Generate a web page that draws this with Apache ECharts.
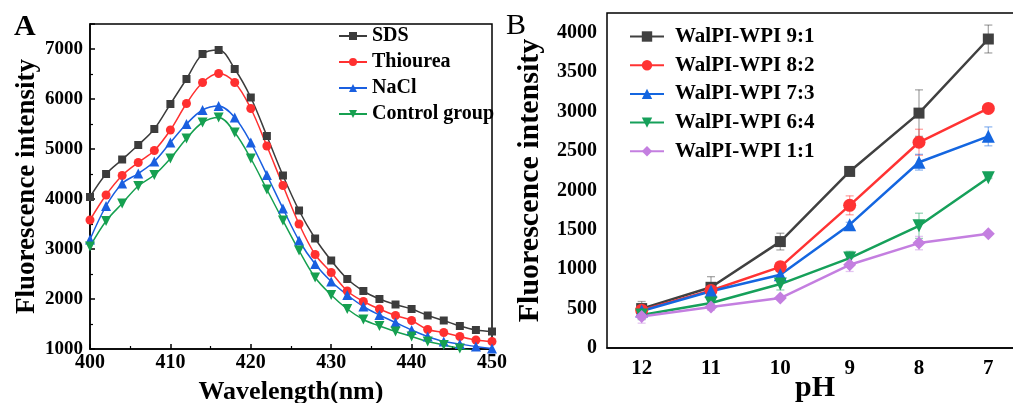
<!DOCTYPE html>
<html>
<head>
<meta charset="utf-8">
<script src="https://cdn.jsdelivr.net/npm/echarts@6/dist/echarts.min.js"></script>
<style>
html,body{margin:0;padding:0;background:#fff;}
#chart{width:1013px;height:403px;}
</style>
</head>
<body>
<div id="chart"></div>
<script>
// ---------- Panel A data ----------
var wavelengths = [400,402,404,406,408,410,412,414,416,418,420,422,424,426,428,430,432,434,436,438,440,442,444,446,448,450];
var sds      = [4040,4500,4790,5080,5400,5900,6400,6900,6980,6600,6030,5260,4470,3770,3210,2770,2400,2160,2000,1890,1800,1670,1570,1460,1380,1350];
var thiourea = [3580,4080,4470,4730,4970,5380,5910,6330,6510,6330,5810,5060,4270,3500,2890,2530,2160,1950,1800,1670,1570,1390,1330,1250,1180,1150];
var nacl     = [3190,3860,4310,4510,4750,5130,5500,5780,5860,5630,5130,4480,3810,3170,2700,2350,2080,1850,1680,1530,1380,1250,1150,1100,1050,1010];
var control  = [3050,3560,3910,4260,4480,4810,5210,5530,5630,5330,4810,4190,3570,2970,2430,2080,1800,1590,1460,1350,1250,1150,1080,1010,960,930];

// ---------- Panel B data ----------
var phLabels = ['12','11','10','9','8','7'];
var r91 = [500,770,1350,2240,2980,3920];
var r82 = [480,730,1030,1810,2610,3040];
var r73 = [470,720,930,1565,2357,2685];
var r64 = [420,570,811,1141,1550,2160];
var r11 = [400,520,634,1056,1331,1449];
var e91 = [90,135,106,30,295,177];
var e82 = [80,60,60,120,165,20];
var e73 = [60,50,40,30,100,120];
var e64 = [60,40,75,85,160,10];
var e11 = [85,40,20,85,85,10];

var FONT = '"Liberation Serif","Times New Roman",serif';
var cA = {sds:'#3c3c3c', thi:'#ff3030', nacl:'#1a5fe0', ctl:'#16a050'};
var cB = ['#404040','#ff3333','#1466e0','#16a05a','#c47fe0'];
var errColB = ['rgba(64,64,64,0.45)','rgba(255,51,51,0.45)','rgba(20,102,224,0.45)','rgba(22,160,90,0.45)','rgba(196,127,224,0.45)'];

function pairs(xs, ys){ var o=[]; for(var i=0;i<xs.length;i++){o.push([xs[i],ys[i]]);} return o; }

function errSeries(vals, errs, idx){
  var d=[]; for(var i=0;i<vals.length;i++){ d.push([i, vals[i]-errs[i], vals[i]+errs[i]]); }
  return {
    type:'custom', xAxisIndex:1, yAxisIndex:1, z:1, silent:true,
    data:d,
    renderItem:function(params, api){
      var x=api.value(0), lo=api.coord([x, api.value(1)]), hi=api.coord([x, api.value(2)]);
      var w=4;
      var st={stroke:errColB[idx], lineWidth:1.3};
      return {type:'group', children:[
        {type:'line', shape:{x1:hi[0],y1:hi[1],x2:lo[0],y2:lo[1]}, style:st},
        {type:'line', shape:{x1:hi[0]-w,y1:hi[1],x2:hi[0]+w,y2:hi[1]}, style:st},
        {type:'line', shape:{x1:lo[0]-w,y1:lo[1],x2:lo[0]+w,y2:lo[1]}, style:st}
      ]};
    }
  };
}

function lineA(name, data, color, symbol, size, rot){
  return {name:name, type:'line', xAxisIndex:0, yAxisIndex:0, data:pairs(wavelengths, data),
    smooth:0.35, symbol:symbol, symbolSize:size, symbolRotate:rot||0, showSymbol:true,
    lineStyle:{color:color, width:1.5}, itemStyle:{color:color}, z:3};
}
function lineB(name, data, idx, symbol, size){
  return {name:name, type:'line', xAxisIndex:1, yAxisIndex:1, data:data,
    symbol:symbol, symbolSize:size, lineStyle:{color:cB[idx], width:2.5}, itemStyle:{color:cB[idx]}, z:3};
}

var chart = echarts.init(document.getElementById('chart'), null, {renderer:'canvas'});
var option = {
  animation:false,
  backgroundColor:'#fff',
  textStyle:{fontFamily:FONT},
  grid:[
    {left:90, top:24, width:402, height:325, show:true, borderColor:'#000', borderWidth:1.5, backgroundColor:'transparent', containLabel:false, outerBoundsMode:'none'},
    {left:607, top:13, width:416, height:335, show:true, borderColor:'#000', borderWidth:1.5, backgroundColor:'transparent', containLabel:false, outerBoundsMode:'none'}
  ],
  xAxis:[
    {type:'value', gridIndex:0, min:400, max:450, interval:10,
     name:'Wavelength(nm)', nameLocation:'middle', nameGap:30,
     nameTextStyle:{fontFamily:FONT, fontWeight:'bold', fontSize:26, color:'#000'},
     axisLine:{lineStyle:{color:'#000', width:1.5}},
     axisTick:{inside:true, length:5, lineStyle:{color:'#000', width:1.5}},
     minorTick:{show:true, splitNumber:2, length:3, lineStyle:{color:'#000', width:1.2}},
     splitLine:{show:false},
     axisLabel:{fontFamily:FONT, fontWeight:'bold', fontSize:20, color:'#000', margin:4}},
    {type:'category', gridIndex:1, data:phLabels, boundaryGap:true,
     name:'pH', nameLocation:'middle', nameGap:25, nameMoveOverlap:false,
     nameTextStyle:{fontFamily:FONT, fontWeight:'bold', fontSize:30, color:'#000'},
     axisLine:{lineStyle:{color:'#000', width:1.5}},
     axisTick:{show:false},
     splitLine:{show:false},
     axisLabel:{fontFamily:FONT, fontWeight:'bold', fontSize:21, color:'#000', margin:10}}
  ],
  yAxis:[
    {type:'value', gridIndex:0, min:1000, max:7500, interval:1000,
     name:'Fluorescence intensity', nameLocation:'middle', nameGap:49, nameRotate:90,
     nameTextStyle:{fontFamily:FONT, fontWeight:'bold', fontSize:27, color:'#000'},
     axisLine:{lineStyle:{color:'#000', width:1.5}},
     axisTick:{inside:true, length:5, lineStyle:{color:'#000', width:1.5}},
     minorTick:{show:true, splitNumber:2, length:3, lineStyle:{color:'#000', width:1.2}},
     splitLine:{show:false},
     axisLabel:{fontFamily:FONT, fontWeight:'bold', fontSize:19, color:'#000', margin:7, showMaxLabel:false,
       formatter:function(v){ return v%1000===0 ? String(v) : ''; }}},
    {type:'value', gridIndex:1, min:0, max:4250, interval:500,
     name:'Fluorescence intensity', nameLocation:'middle', nameGap:62, nameRotate:90,
     nameTextStyle:{fontFamily:FONT, fontWeight:'bold', fontSize:30, color:'#000'},
     axisLine:{lineStyle:{color:'#000', width:1.5}},
     axisTick:{inside:true, length:5, lineStyle:{color:'#000', width:1.5}},
     splitLine:{show:false},
     axisLabel:{fontFamily:FONT, fontWeight:'bold', fontSize:20, color:'#000', margin:10, showMaxLabel:false,
       formatter:function(v){ return v%500===0 ? String(v) : ''; }}}
  ],
  legend:[
    {orient:'vertical', left:333, top:21, itemWidth:28, itemHeight:10, itemGap:6,
     data:['SDS','Thiourea','NaCl','Control group'],
     textStyle:{fontFamily:FONT, fontWeight:'bold', fontSize:20, color:'#000', padding:[0,0,0,0]}},
    {orient:'vertical', left:624, top:21, itemWidth:34, itemHeight:13, itemGap:7.7,
     data:['WalPI-WPI 9:1','WalPI-WPI 8:2','WalPI-WPI 7:3','WalPI-WPI 6:4','WalPI-WPI 1:1'],
     textStyle:{fontFamily:FONT, fontWeight:'bold', fontSize:21, color:'#000', padding:[0,0,0,6]}}
  ],
  graphic:[
    {type:'text', left:14, top:12, style:{text:'A', font:'bold 30px '+FONT, fill:'#000'}},
    {type:'text', left:506, top:11, style:{text:'B', font:'30px '+FONT, fill:'#000'}}
  ],
  series:[
    lineA('SDS', sds, cA.sds, 'rect', 8),
    lineA('Thiourea', thiourea, cA.thi, 'circle', 9),
    lineA('NaCl', nacl, cA.nacl, 'triangle', 10),
    lineA('Control group', control, cA.ctl, 'triangle', 10, 180),
    errSeries(r91, e91, 0),
    errSeries(r82, e82, 1),
    errSeries(r73, e73, 2),
    errSeries(r64, e64, 3),
    errSeries(r11, e11, 4),
    lineB('WalPI-WPI 9:1', r91, 0, 'rect', 11),
    lineB('WalPI-WPI 8:2', r82, 1, 'circle', 13),
    lineB('WalPI-WPI 7:3', r73, 2, 'triangle', 13),
    lineB('WalPI-WPI 6:4', r64, 3, 'path://M0,0 L10,0 L5,9 Z', 13),
    lineB('WalPI-WPI 1:1', r11, 4, 'diamond', 13)
  ]
};
chart.setOption(option);
</script>
</body>
</html>
